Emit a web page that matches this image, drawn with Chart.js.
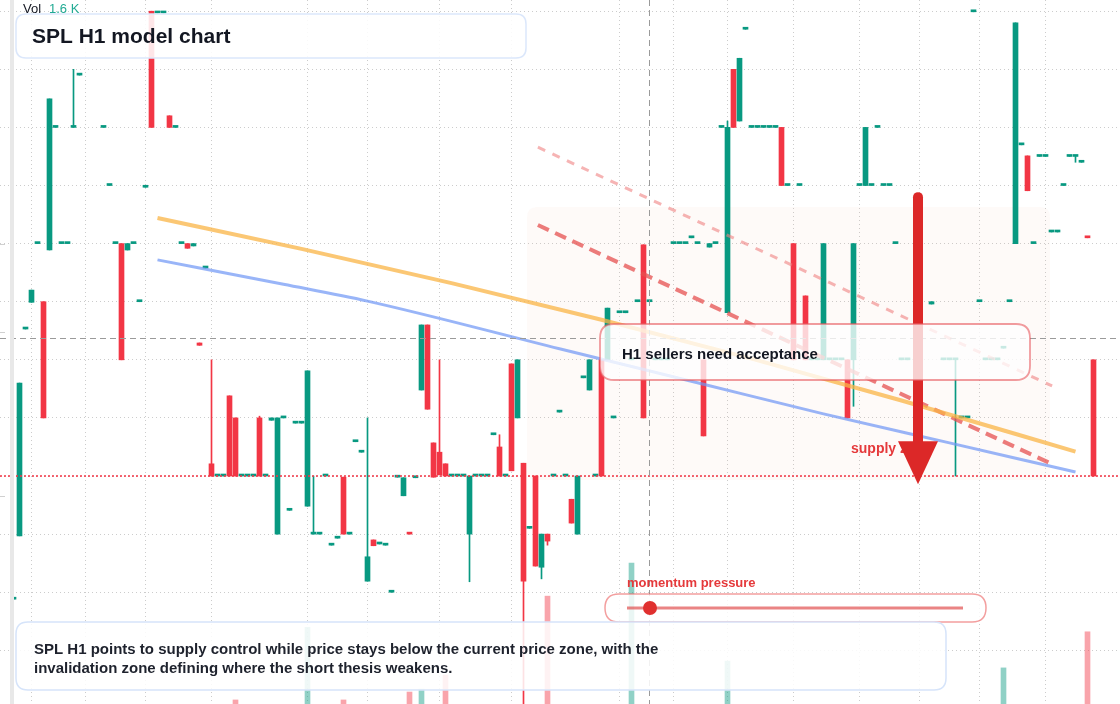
<!DOCTYPE html>
<html><head><meta charset="utf-8">
<style>html,body{margin:0;padding:0;background:#fff;overflow:hidden}canvas{display:block}</style>
<script src="https://cdn.jsdelivr.net/npm/chart.js@4.4.1/dist/chart.umd.min.js"></script>
</head><body>
<canvas id="c" width="1120" height="704"></canvas>
<script>
// ---- candle data (bar index, open, close, high, low) ----
const idx = [2,3,4,5,6,7,8,9,10,11,12,13,
  17,18,19,20,21,22,23,24,25,26,27,28,29,30,31,32,33,34,
  35,36,37,38,39,40,41,42,43,44,45,46,47,48,49,50,
  51,52,53,54,55,56,57,58,59,60,61,62,63,64,65,66,67,68,69,70,
  71,72,73,74,75,76,77,78,79,80,81,82,83,84,85,86,87,88,89,90,
  91,92,93,94,95,96,97,98,99,100,101,102,103,104,105,106,107,108,109,110,
  111,112,113,114,115,116,117,118,119,120,121,122,123,124,125,126,127,128,129,130,
  131,132,133,134,135,136,137,138,139,140,141,142,143,144,145,146,147,148,149,150,151,
  155,157,158,159,160,161,162,163,164,165,166,167,168,169,170,171,172,173,174,175,176,177,178,179,180,181,182];
const open = [7.88,8.97,12.53,12.99,14.00,13.00,13.89,16.00,14.00,14.00,16.00,16.90,
  16.00,15.00,14.00,14.00,13.89,14.00,13.00,14.97,18.00,17.97,17.97,16.20,16.00,14.00,14.00,13.96,12.29,13.58,
  10.21,10.00,10.00,11.38,11.00,10.00,10.00,10.00,11.00,10.00,10.96,9.00,11.00,9.41,10.91,10.91,
  9.48,9.00,9.00,10.00,8.81,8.93,9.98,9.00,10.59,10.41,8.19,8.90,8.83,8.81,8.00,9.98,9.66,9.01,9.97,11.48,
  12.60,10.57,10.41,10.21,10.00,10.00,10.00,9.00,10.00,10.00,10.00,10.71,10.50,10.00,11.93,11.00,10.22,9.10,10.00,8.43,
  9.00,10.00,11.10,10.00,9.60,9.00,11.69,11.48,10.00,12.00,12.00,11.00,12.81,12.81,12.00,13.00,13.98,13.00,12.00,12.00,
  12.00,14.00,14.00,14.00,14.10,14.00,12.00,13.94,14.00,16.00,12.81,17.00,16.11,17.69,16.00,16.00,16.00,16.00,16.00,16.00,
  15.00,14.00,15.00,13.10,12.00,12.00,12.00,12.00,12.00,12.00,12.00,12.00,15.00,15.00,15.00,16.00,15.00,15.00,14.00,12.00,12.00,
  12.96,12.00,12.00,12.00,11.00,11.00,17.99,13.00,12.00,12.00,12.00,12.20,13.00,14.00,15.70,15.51,14.00,15.50,15.50,14.20,14.20,15.00,15.50,15.50,15.40,14.12,12.00];
const close = [7.88,11.60,12.53,13.20,14.00,11.00,16.49,16.00,14.00,14.00,16.00,16.90,
  16.00,15.00,14.00,12.00,14.00,14.00,13.00,15.00,16.00,17.97,17.97,16.00,16.00,14.00,13.92,14.00,12.25,13.58,
  10.00,10.00,10.00,10.00,10.00,10.00,10.00,10.00,10.00,10.00,11.00,11.00,11.00,9.41,10.91,10.91,
  11.81,9.00,9.00,10.00,8.81,8.93,9.00,9.00,10.59,10.41,8.61,8.80,8.83,8.81,8.00,9.98,9.97,9.00,9.97,12.60,
  11.15,9.98,10.02,10.00,10.00,10.00,10.00,10.00,10.00,10.00,10.00,10.71,10.00,10.00,10.09,12.00,8.19,9.10,8.45,9.00,
  8.88,10.00,11.10,10.00,9.19,10.00,11.69,12.00,10.00,10.00,12.89,11.00,12.81,12.81,12.00,13.00,11.00,13.00,12.00,12.00,
  12.00,14.00,14.00,14.00,14.10,14.00,10.69,14.00,14.00,16.00,16.00,16.00,17.19,17.69,16.00,16.00,16.00,16.00,16.00,15.00,
  15.00,12.00,15.00,12.00,12.00,12.00,14.00,12.00,12.00,12.00,11.00,14.00,15.00,16.00,15.00,16.00,15.00,15.00,14.00,12.00,12.00,
  13.00,12.00,12.00,12.00,11.00,11.00,17.99,13.00,12.00,12.00,12.00,12.20,13.00,17.80,15.70,14.91,14.00,15.50,15.50,14.20,14.20,15.00,15.50,15.50,15.40,14.10,10.00];
const high = [7.88,11.60,12.53,13.20,14.00,13.00,16.49,16.00,14.00,14.00,17.00,16.90,
  16.00,15.00,14.00,14.00,14.00,14.00,13.00,15.00,18.00,17.97,17.97,16.20,16.00,14.00,14.00,14.00,12.29,13.58,
  12.00,10.00,10.00,11.38,11.00,10.00,10.00,10.00,11.03,10.00,11.00,11.00,11.00,9.41,10.91,10.91,
  11.81,10.00,9.00,10.00,8.81,8.93,9.98,9.00,10.59,10.41,11.00,8.90,8.83,8.81,8.00,9.98,9.97,9.01,9.97,12.60,
  12.60,10.57,12.00,10.21,10.00,10.00,10.00,10.00,10.00,10.00,10.00,10.71,10.71,10.00,11.93,12.00,10.22,9.10,10.00,9.00,
  9.00,10.00,11.10,10.00,9.60,10.00,11.69,12.00,10.00,12.00,12.89,11.00,12.81,12.81,12.00,13.00,13.98,13.00,12.00,12.00,
  12.00,14.00,14.00,14.00,14.10,14.00,12.00,14.00,14.00,16.00,16.11,17.00,17.19,17.69,16.00,16.00,16.00,16.00,16.00,16.00,
  15.00,14.00,15.00,13.10,12.00,12.00,14.00,12.00,12.00,12.00,12.00,14.00,15.00,16.00,15.00,16.00,15.00,15.00,14.00,12.00,12.00,
  13.00,12.00,12.00,12.00,11.00,11.00,17.99,13.00,12.00,12.00,12.00,12.20,13.00,17.80,15.70,15.51,14.00,15.50,15.50,14.20,14.20,15.00,15.50,15.50,15.40,14.12,12.00];
const low = [7.88,8.97,12.53,12.99,14.00,11.00,13.89,16.00,14.00,14.00,16.00,16.90,
  16.00,15.00,14.00,12.00,13.89,14.00,13.00,14.97,16.00,17.97,17.97,16.00,16.00,14.00,13.92,13.96,12.25,13.58,
  10.00,10.00,10.00,10.00,10.00,10.00,10.00,10.00,10.00,10.00,10.96,9.00,11.00,9.41,10.91,10.91,
  9.48,9.00,9.00,10.00,8.81,8.93,9.00,9.00,10.59,10.41,8.19,8.80,8.83,8.81,8.00,9.98,9.66,9.00,9.97,11.48,
  11.15,9.98,10.02,10.00,10.00,10.00,10.00,8.18,10.00,10.00,10.00,10.71,10.00,10.00,10.09,11.00,5.90,9.10,8.45,8.23,
  8.81,10.00,11.10,10.00,9.19,9.00,11.69,11.48,10.00,10.00,12.00,11.00,12.81,12.81,12.00,13.00,11.00,13.00,12.00,12.00,
  12.00,14.00,14.00,14.00,14.10,14.00,10.69,13.94,14.00,16.00,12.81,16.00,16.11,17.69,16.00,16.00,16.00,16.00,16.00,15.00,
  15.00,12.00,15.00,12.00,12.00,12.00,12.00,12.00,12.00,12.00,11.00,11.20,15.00,15.00,15.00,16.00,15.00,15.00,14.00,12.00,12.00,
  12.96,12.00,12.00,10.00,11.00,11.00,17.99,13.00,12.00,12.00,12.00,12.20,13.00,14.00,15.70,14.91,14.00,15.50,15.50,14.20,14.20,15.00,15.50,15.40,15.40,14.10,10.00];

// ---- volume (bar index, volume) ----
const volIdx = [39,51,57,68,70,74,91,105,121,167,181];
const volume = [90,1700,90,265,330,640,2390,3125,950,800,1600];

// ---- model lines (bar index, price) ----
const orangeIdx = [26,50,75,100,125,150,179];
const orangeVal = [14.44,13.91,13.32,12.69,12.02,11.30,10.42];
const blueIdx = [26,47,61,93,117,137,158,179];
const blueVal = [13.72,13.30,13.01,12.19,11.58,11.07,10.57,10.07];
const resistIdx = [89.4,175.4];
const resistVal = [14.32,10.19];
const upperIdx = [89.4,175.1];
const upperVal = [15.66,11.55];

// ---- levels / annotations ----
const currentPrice = 10.00;
const crossIdx = 107.9, crossPrice = 12.375;
const zoneIdx = [87.6, 174.75], zonePrice = [14.63, 9.93];
const arrowIdx = 152.75, arrowPrice = [14.80, 10.60, 9.86];
const gridIdx = [4.92,13.92,23.92,34.92,50.92,60.92,72.92,84.92,102.92,111.92,120.92,131.92,142.92,152.92,162.92,174.08];
const gridPrice = [7,8,9,10,11,12,13,14,15,16,17,18];
const edgeTickPrice = [14.00, 12.48, 9.66];
const titleText = 'SPL H1 model chart';
const calloutText = 'H1 sellers need acceptance';
const zoneLabel = 'supply zone';
const momentumLabel = 'momentum pressure';
const noteLines = ['SPL H1 points to supply control while price stays below the current price zone, with the',
  'invalidation zone defining where the short thesis weakens.'];
const volLabel = ['Vol', '1.6 K'];

const UP = '#089981', DOWN = '#f23645';
const candleColor = idx.map((k,i) => close[i] >= open[i] ? UP : DOWN);
const volColor = volIdx.map(k => { const i = idx.indexOf(k); return close[i] >= open[i] ? 'rgba(8,153,129,0.45)' : 'rgba(242,54,69,0.45)'; });
const FONT = '"Liberation Sans", Arial, sans-serif';

function rr(ctx, x, y, w, h, r) {
  ctx.beginPath();
  ctx.moveTo(x + r, y); ctx.lineTo(x + w - r, y); ctx.quadraticCurveTo(x + w, y, x + w, y + r);
  ctx.lineTo(x + w, y + h - r); ctx.quadraticCurveTo(x + w, y + h, x + w - r, y + h);
  ctx.lineTo(x + r, y + h); ctx.quadraticCurveTo(x, y + h, x, y + h - r);
  ctx.lineTo(x, y + r); ctx.quadraticCurveTo(x, y, x + r, y); ctx.closePath();
}

const overlay = {
  id: 'overlay',
  beforeDatasetsDraw(chart) {
    const {ctx, scales: {x, y}} = chart;
    ctx.save();
    const x0 = x.getPixelForValue(zoneIdx[0]), x1 = x.getPixelForValue(zoneIdx[1]);
    const y0 = y.getPixelForValue(zonePrice[0]), y1 = y.getPixelForValue(zonePrice[1]);
    rr(ctx, x0, y0, x1 - x0, y1 - y0, 10);
    ctx.fillStyle = 'rgba(235,190,160,0.07)';
    ctx.fill();
    ctx.restore();
  },
  afterDatasetsDraw(chart) {
    const {ctx, scales: {x, y}} = chart;
    ctx.save();
    // current price line
    const py = y.getPixelForValue(currentPrice);
    ctx.strokeStyle = '#f23645'; ctx.lineWidth = 1.5; ctx.setLineDash([2, 2]);
    ctx.beginPath(); ctx.moveTo(0, py); ctx.lineTo(1120, py); ctx.stroke();
    // crosshair
    ctx.strokeStyle = '#9a9a9a'; ctx.lineWidth = 1; ctx.setLineDash([6, 4]);
    const cx = Math.round(x.getPixelForValue(crossIdx)) + 0.5, cy = Math.round(y.getPixelForValue(crossPrice)) + 0.5;
    ctx.beginPath(); ctx.moveTo(cx, 0); ctx.lineTo(cx, 704); ctx.stroke();
    ctx.beginPath(); ctx.moveTo(0, cy); ctx.lineTo(1120, cy); ctx.stroke();
    ctx.setLineDash([]);
    // left strip and edge ticks
    ctx.fillStyle = '#e8e8e8'; ctx.fillRect(10, 0, 4, 704);
    ctx.fillStyle = '#d0d0d0';
    edgeTickPrice.forEach(p => { ctx.fillRect(0, Math.round(y.getPixelForValue(p)), 5, 1); });
    // supply zone label
    ctx.fillStyle = '#e5393b'; ctx.font = 'bold 14px ' + FONT; ctx.textBaseline = 'alphabetic';
    ctx.fillText(zoneLabel, 851, 453);
    // arrow
    const ax = x.getPixelForValue(arrowIdx);
    const aTop = y.getPixelForValue(arrowPrice[0]), aBase = y.getPixelForValue(arrowPrice[1]), aTip = y.getPixelForValue(arrowPrice[2]);
    ctx.strokeStyle = '#dc2828'; ctx.lineWidth = 10; ctx.lineCap = 'round';
    ctx.beginPath(); ctx.moveTo(ax, aTop); ctx.lineTo(ax, aBase); ctx.stroke();
    ctx.lineCap = 'butt';
    ctx.fillStyle = '#dc2828';
    ctx.beginPath(); ctx.moveTo(ax - 20, aBase); ctx.lineTo(ax + 20, aBase); ctx.lineTo(ax, aTip); ctx.closePath(); ctx.fill();
    // callout box
    rr(ctx, 600, 324, 430, 56, 14);
    ctx.fillStyle = 'rgba(255,255,255,0.78)'; ctx.fill();
    ctx.strokeStyle = 'rgba(232,90,95,0.6)'; ctx.lineWidth = 1.8; ctx.stroke();
    ctx.fillStyle = '#131722'; ctx.font = 'bold 15px ' + FONT;
    ctx.fillText(calloutText, 622, 359);
    // momentum
    ctx.fillStyle = '#e5393b'; ctx.font = 'bold 13px ' + FONT;
    ctx.fillText(momentumLabel, 627, 587);
    rr(ctx, 605, 594, 381, 28, 14);
    ctx.fillStyle = 'rgba(255,255,255,0.82)'; ctx.fill();
    ctx.strokeStyle = 'rgba(235,95,95,0.6)'; ctx.lineWidth = 1.5; ctx.stroke();
    ctx.strokeStyle = 'rgba(225,80,80,0.7)'; ctx.lineWidth = 3;
    ctx.beginPath(); ctx.moveTo(627, 608); ctx.lineTo(963, 608); ctx.stroke();
    ctx.fillStyle = '#e0302f'; ctx.beginPath(); ctx.arc(650, 608, 7, 0, Math.PI * 2); ctx.fill();
    // bottom note box
    rr(ctx, 16, 622, 930, 68, 12);
    ctx.fillStyle = 'rgba(255,255,255,0.86)'; ctx.fill();
    ctx.strokeStyle = '#d6e4fa'; ctx.lineWidth = 1.5; ctx.stroke();
    ctx.fillStyle = '#1e222d'; ctx.font = 'bold 15px ' + FONT;
    ctx.fillText(noteLines[0], 34, 654);
    ctx.fillText(noteLines[1], 34, 673);
    // title box
    rr(ctx, 16, 14, 510, 44, 10);
    ctx.fillStyle = 'rgba(255,255,255,0.88)'; ctx.fill();
    ctx.strokeStyle = '#dbe7fb'; ctx.lineWidth = 1.5; ctx.stroke();
    ctx.fillStyle = '#131722'; ctx.font = 'bold 21px ' + FONT;
    ctx.fillText(titleText, 32, 43);
    // vol label
    ctx.font = '13px ' + FONT; ctx.fillStyle = '#131722';
    ctx.fillText(volLabel[0], 23, 13);
    ctx.fillStyle = '#22ab94';
    ctx.fillText(volLabel[1], 49, 13);
    ctx.restore();
  }
};

const gridCommon = { color: '#cccccc', lineWidth: 1, drawTicks: false };
new Chart(document.getElementById('c'), {
  type: 'bar',
  data: {
    datasets: [
      { type: 'bar', label: 'Volume', yAxisID: 'yv', data: volIdx.map((k, i) => ({x: k, y: volume[i]})),
        backgroundColor: volColor, barThickness: 5, grouped: false, borderWidth: 0, order: 6 },
      { type: 'bar', label: 'Wick', yAxisID: 'y', data: idx.map((k, i) => ({x: k, y: [low[i], high[i]]})),
        backgroundColor: candleColor, barThickness: 1, grouped: false, borderWidth: 0, order: 5 },
      { type: 'bar', label: 'Body', yAxisID: 'y', data: idx.map((k, i) => ({x: k, y: [open[i], close[i]]})),
        backgroundColor: candleColor, barThickness: 5, minBarLength: 2, grouped: false, borderWidth: 0, order: 4 },
      { type: 'line', label: 'Upper', yAxisID: 'y', data: upperIdx.map((k, i) => ({x: k, y: upperVal[i]})),
        borderColor: 'rgba(240,130,130,0.6)', borderWidth: 3, borderDash: [8, 8], pointRadius: 0, fill: false, order: 3 },
      { type: 'line', label: 'Resistance', yAxisID: 'y', data: resistIdx.map((k, i) => ({x: k, y: resistVal[i]})),
        borderColor: 'rgba(230,80,80,0.75)', borderWidth: 4, borderDash: [12, 7], pointRadius: 0, fill: false, order: 2 },
      { type: 'line', label: 'Orange', yAxisID: 'y', data: orangeIdx.map((k, i) => ({x: k, y: orangeVal[i]})),
        borderColor: 'rgba(250,180,70,0.75)', borderWidth: 4, pointRadius: 0, fill: false, cubicInterpolationMode: 'monotone', order: 1 },
      { type: 'line', label: 'Blue', yAxisID: 'y', data: blueIdx.map((k, i) => ({x: k, y: blueVal[i]})),
        borderColor: 'rgba(110,150,245,0.7)', borderWidth: 3, pointRadius: 0, fill: false, cubicInterpolationMode: 'monotone', order: 0 }
    ]
  },
  options: {
    responsive: false, animation: false, devicePixelRatio: 1,
    layout: { padding: 0 },
    plugins: { legend: { display: false }, tooltip: { enabled: false } },
    scales: {
      x: { type: 'linear', min: -0.25, max: 186.4167, offset: false,
        grid: Object.assign({ offset: false }, gridCommon), border: { display: false, dash: [1, 3] },
        ticks: { display: false },
        afterBuildTicks: (a) => { a.ticks = gridIdx.map(v => ({ value: v })); },
        afterFit: (s) => { s.height = 0; } },
      y: { type: 'linear', position: 'left', min: 6.076, max: 18.193,
        grid: gridCommon, border: { display: false, dash: [1, 3] }, ticks: { display: false },
        afterBuildTicks: (a) => { a.ticks = gridPrice.map(v => ({ value: v })); },
        afterFit: (s) => { s.width = 0; } },
      yv: { type: 'linear', position: 'right', min: 0, max: 15600,
        grid: { display: false, drawTicks: false }, border: { display: false }, ticks: { display: false },
        afterFit: (s) => { s.width = 0; } }
    }
  },
  plugins: [overlay]
});
</script></body></html>
